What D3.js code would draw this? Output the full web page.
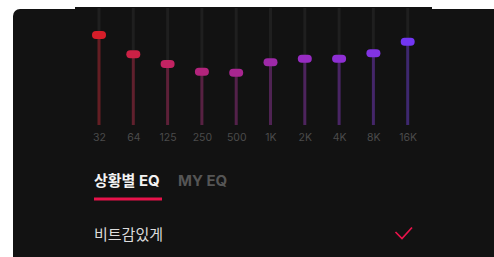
<!DOCTYPE html>
<html><head><meta charset="utf-8">
<script src="https://cdn.jsdelivr.net/npm/d3@7"></script>
<style>
html,body{margin:0;padding:0;background:#fff;}
svg{display:block;}
</style></head>
<body>
<script>
const bands = ["32","64","125","250","500","1K","2K","4K","8K","16K"];
const levels = [76.9, 60.4, 52.1, 45.6, 44.7, 53.6, 56.7, 56.7, 61.3, 71.2];
const knobColors = ["#d61d29","#cb2145","#c22362","#b2247c","#a82690","#9e29a8","#982cc3","#8e2fd4","#8133e3","#7236f3"];
const tabs = ["상황별 EQ","MY EQ"];
const presetName = "비트감있게";

const W = 494, H = 257;
const svg = d3.select("body").append("svg").attr("width", W).attr("height", H);

// panel
svg.append("rect").attr("x",13).attr("y",9).attr("width",W-13+8).attr("height",H-9+10).attr("rx",7).attr("fill","#121212");
svg.append("rect").attr("x",75).attr("y",7).attr("width",357).attr("height",4).attr("fill","#121212");

const x = d3.scalePoint().domain(bands).range([99, 407.7]);
const y = d3.scaleLinear().domain([0,100]).range([125, 8]);

const g = svg.append("g");
g.selectAll("rect.trk").data(bands).join("rect").attr("class","trk")
  .attr("x", d => x(d)-1.5).attr("width",3)
  .attr("y", y(100)).attr("height", y(0)-y(100))
  .attr("fill","#1f1f1f");
g.selectAll("rect.act").data(bands).join("rect").attr("class","act")
  .attr("x", d => x(d)-1.5).attr("width",3)
  .attr("y", (d,i) => y(levels[i])).attr("height", (d,i) => y(0)-y(levels[i]))
  .attr("fill",(d,i)=>knobColors[i]).attr("fill-opacity",0.38);
g.selectAll("rect.knob").data(bands).join("rect").attr("class","knob")
  .attr("x", d => x(d)-7).attr("width",14)
  .attr("y", (d,i) => y(levels[i])-4).attr("height",8).attr("rx",4)
  .attr("fill",(d,i)=>knobColors[i]);

const ax = svg.append("g").attr("transform","translate(0,134)")
  .call(d3.axisBottom(x).tickSize(0).tickPadding(0));
ax.select(".domain").remove();
ax.selectAll("text").attr("fill","#4b4b4b").attr("font-size","10.5px")
  .attr("font-family","Inter, 'Noto Sans', sans-serif");

svg.append("text").attr("x",94).attr("y",186).text(tabs[0])
  .attr("fill","#f2f2f2").attr("font-size","15px").attr("font-weight","bold")
  .attr("font-family","Inter, 'Noto Sans CJK KR', sans-serif");
svg.append("text").attr("x",178).attr("y",186).text(tabs[1])
  .attr("fill","#555555").attr("font-size","15px").attr("font-weight","bold")
  .attr("font-family","Inter, 'Noto Sans CJK KR', sans-serif");
svg.append("rect").attr("x",94).attr("y",197.5).attr("width",68).attr("height",3).attr("fill","#e8134b");

svg.append("text").attr("x",94).attr("y",240).text(presetName)
  .attr("fill","#dcdcdc").attr("font-size","15px")
  .attr("font-family","'Noto Sans CJK KR', sans-serif");
svg.append("path").attr("d","M395.5,232 L402,238.5 L412,227.5")
  .attr("fill","none").attr("stroke","#e8134b").attr("stroke-width",1.7);
</script>
</body></html>
